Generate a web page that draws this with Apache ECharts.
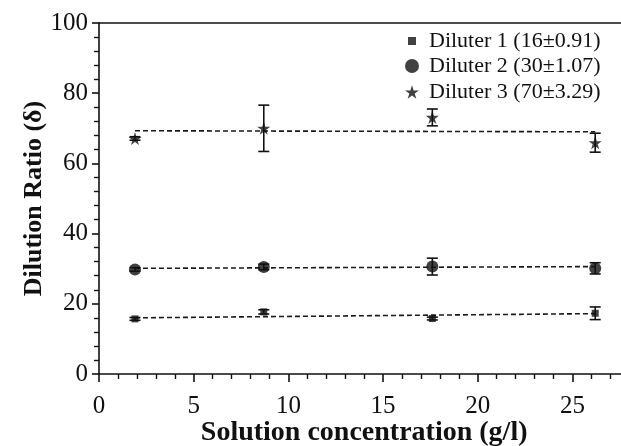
<!DOCTYPE html>
<html>
<head>
<meta charset="utf-8">
<script src="https://cdn.jsdelivr.net/npm/echarts@6/dist/echarts.min.js"></script>
<style>
html,body{margin:0;padding:0;background:#fff;}
#chart{width:621px;height:446px;}
</style>
</head>
<body>
<div id="chart"></div>
<script>
// ---- data ----
const concentrations = [1.9, 8.7, 17.6, 26.2];
const seriesNames = ['Diluter 1 (16\u00b10.91)', 'Diluter 2 (30\u00b11.07)', 'Diluter 3 (70\u00b13.29)'];
const diluter1 = [15.7, 17.7, 15.8, 17.3];
const diluter1Err = [0.4, 0.6, 0.4, 1.8];
const diluter2 = [29.8, 30.5, 30.6, 30.1];
const diluter2Err = [0.5, 0.8, 2.4, 1.6];
const diluter3 = [67.1, 70.0, 73.1, 65.9];
const diluter3Err = [0.5, 6.6, 2.4, 2.7];
const fit1 = [[1.9, 16.0], [26.2, 17.2]];
const fit2 = [[1.9, 30.1], [26.2, 30.6]];
const fit3 = [[1.9, 69.3], [26.2, 69.0]];
const xTicks = [0, 5, 10, 15, 20, 25];
const yTicks = [0, 20, 40, 60, 80, 100];

const FONT = 'Liberation Serif';
const STAR = 'path://M50,0 L61.8,36.2 L100,36.2 L69.1,58.6 L80.9,95.1 L50,72.7 L19.1,95.1 L30.9,58.6 L0,36.2 L38.2,36.2 Z';

function pts(vals) { return concentrations.map((x, i) => [x, vals[i]]); }
function errPts(vals, errs) { return concentrations.map((x, i) => [x, vals[i] - errs[i], vals[i] + errs[i]]); }

function errorBarSeries(data) {
  return {
    type: 'custom',
    silent: true,
    z: 3,
    data: data,
    renderItem: function (params, api) {
      const x = api.value(0);
      const lo = api.coord([x, api.value(1)]);
      const hi = api.coord([x, api.value(2)]);
      const hw = 5.5;
      const st = { stroke: '#111', lineWidth: 1.6, fill: null };
      return {
        type: 'group',
        children: [
          { type: 'line', shape: { x1: lo[0], y1: lo[1], x2: hi[0], y2: hi[1] }, style: st },
          { type: 'line', shape: { x1: lo[0] - hw, y1: lo[1], x2: lo[0] + hw, y2: lo[1] }, style: st },
          { type: 'line', shape: { x1: hi[0] - hw, y1: hi[1], x2: hi[0] + hw, y2: hi[1] }, style: st }
        ]
      };
    }
  };
}

function fitSeries(data) {
  return {
    type: 'line', data: data, symbol: 'none', silent: true, z: 2,
    lineStyle: { color: '#1a1a1a', width: 1.6, type: [5, 3] }
  };
}

function legendFor(name, icon, size, centerY) {
  return {
    orient: 'vertical', left: 412 - size / 2, top: centerY - 12, data: [{ name: name, icon: icon }],
    itemWidth: size, itemHeight: size, selectedMode: false, padding: 0,
    textStyle: { fontFamily: FONT, fontSize: 22, lineHeight: 24, color: '#111',
      padding: [0, 0, 0, 17 - size / 2 - 5] }
  };
}

const chart = echarts.init(document.getElementById('chart'), null, { renderer: 'canvas' });
chart.setOption({
  animation: false,
  backgroundColor: '#fff',
  grid: { left: 99, top: 23, width: 530.3, bottom: 72, containLabel: false, outerBoundsMode: 'none' },
  legend: [
    legendFor(seriesNames[0], 'rect', 8, 41),
    legendFor(seriesNames[1], 'circle', 14, 66),
    legendFor(seriesNames[2], STAR, 14, 92)
  ],
  xAxis: [{
    type: 'value', min: 0, max: 28, interval: 5,
    name: 'Solution concentration (g/l)', nameLocation: 'middle', nameGap: 45, nameMoveOverlap: false,
    nameTextStyle: { fontFamily: FONT, fontSize: 28, fontWeight: 'bold', color: '#111' },
    axisLine: { show: true, lineStyle: { color: '#111', width: 1.6 } },
    axisTick: { show: true, inside: false, length: 8, lineStyle: { color: '#111', width: 1.6 } },
    minorTick: { show: true, splitNumber: 5, length: 5, lineStyle: { color: '#111', width: 1.4 } },
    axisLabel: { fontFamily: FONT, fontSize: 25, color: '#111', margin: 20,
      formatter: function (v) { return xTicks.indexOf(v) >= 0 ? String(v) : ''; } },
    splitLine: { show: false }
  }, {
    type: 'value', position: 'top', min: 0, max: 28,
    axisLine: { show: true, lineStyle: { color: '#111', width: 1.6 } },
    axisTick: { show: false }, axisLabel: { show: false }, splitLine: { show: false }
  }],
  yAxis: {
    type: 'value', min: 0, max: 100, interval: 20,
    name: 'Dilution Ratio (\u03b4)', nameLocation: 'middle', nameGap: 52, nameMoveOverlap: false,
    nameTextStyle: { fontFamily: FONT, fontSize: 26, fontWeight: 'bold', color: '#111' },
    axisLine: { show: true, lineStyle: { color: '#111', width: 1.6 } },
    axisTick: { show: true, inside: false, length: 7, lineStyle: { color: '#111', width: 1.6 } },
    minorTick: { show: true, splitNumber: 5, length: 5, lineStyle: { color: '#111', width: 1.4 } },
    axisLabel: { fontFamily: FONT, fontSize: 25, color: '#111', margin: 11,
      formatter: function (v) { return yTicks.indexOf(v) >= 0 ? String(v) : ''; } },
    splitLine: { show: false }
  },
  series: [
    fitSeries(fit1), fitSeries(fit2), fitSeries(fit3),
    errorBarSeries(errPts(diluter1, diluter1Err)),
    errorBarSeries(errPts(diluter2, diluter2Err)),
    errorBarSeries(errPts(diluter3, diluter3Err)),
    { name: seriesNames[0], type: 'scatter', data: pts(diluter1), symbol: 'rect', symbolSize: 7, z: 4,
      itemStyle: { color: '#111' } },
    { name: seriesNames[1], type: 'scatter', data: pts(diluter2), symbol: 'circle', symbolSize: 12, z: 4,
      itemStyle: { color: '#111' } },
    { name: seriesNames[2], type: 'scatter', data: pts(diluter3), symbol: STAR, symbolSize: 13, z: 4,
      itemStyle: { color: '#111' } }
  ]
});
</script>
</body>
</html>
